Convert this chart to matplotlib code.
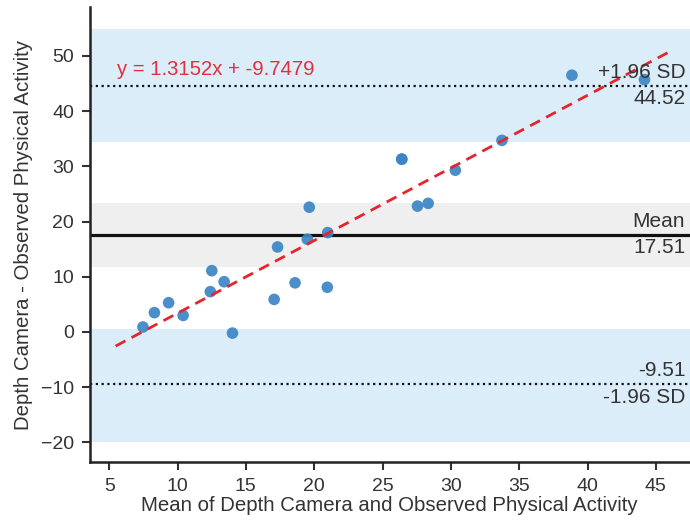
import matplotlib
matplotlib.use("Agg")
import matplotlib.pyplot as plt
import numpy as np

plt.rcParams['font.family'] = ['Liberation Sans', 'DejaVu Sans']

# Data
mean_vals = [7.47, 8.31, 9.35, 10.41, 12.4, 12.51, 13.41, 14.02, 17.07, 17.32,
             18.6, 19.5, 19.64, 20.99, 20.96, 26.41, 26.41, 27.56, 28.34, 30.33,
             33.74, 38.86, 44.17]
diff_vals = [0.9, 3.5, 5.3, 3.0, 7.3, 11.1, 9.1, -0.2, 5.9, 15.4,
             8.9, 16.8, 22.6, 18.0, 8.1, 31.3, 31.3, 22.8, 23.3, 29.3,
             34.7, 46.5, 45.7]

mean_diff = 17.51
upper_loa = 44.52
lower_loa = -9.51
mean_ci = [11.7, 23.3]
upper_ci = [34.4, 54.8]
lower_ci = [-19.9, 0.6]
slope = 1.3152
intercept = -9.7479

xticks = [5, 10, 15, 20, 25, 30, 35, 40, 45]
yticks = [-20, -10, 0, 10, 20, 30, 40, 50]

fig = plt.figure(figsize=(6.9, 5.24), dpi=100)
ax = fig.add_axes([89.5/690, 1 - 462.3/524, 1 - 89.5/690, (462.3 - 7.3)/524])

ax.set_xlim(3.56, 47.5)
ax.set_ylim(-23.6, 58.8)

band_blue = '#dcedfa'
band_gray = '#efefef'
ax.axhspan(upper_ci[0], upper_ci[1], color=band_blue, lw=0, zorder=0)
ax.axhspan(lower_ci[0], lower_ci[1], color=band_blue, lw=0, zorder=0)
ax.axhspan(mean_ci[0], mean_ci[1], color=band_gray, lw=0, zorder=0)

ax.axhline(mean_diff, color='#111111', lw=2.3, zorder=2)
ax.axhline(upper_loa, color='#111111', lw=1.6, ls=(0, (1, 1.6)), zorder=2)
ax.axhline(lower_loa, color='#111111', lw=1.6, ls=(0, (1, 1.6)), zorder=2)

ax.scatter(mean_vals, diff_vals, s=70, color='#3a86c6', alpha=0.92,
           edgecolors='none', zorder=3)

xs = np.array([min(mean_vals) - 2, max(mean_vals) + 2])
ax.plot(xs, slope * xs + intercept, color='#e5252d', ls=(0, (4, 2.5)), lw=2, zorder=4)

ax.text(5.55, 47.6, f"y = {slope}x + {intercept}", color='#e0303a',
        fontsize=14.6, va='center', ha='left', zorder=5)

tx = 0.992
kw = dict(transform=ax.get_yaxis_transform(), ha='right', va='center',
          fontsize=15, color='#333333', zorder=5)
ax.text(tx, upper_loa + 2.5, "+1.96 SD", **kw)
ax.text(tx, upper_loa - 2.3, f"{upper_loa:.2f}", **kw)
ax.text(tx, mean_diff + 2.5, "Mean", **kw)
ax.text(tx, mean_diff - 2.3, f"{mean_diff:.2f}", **kw)
ax.text(tx, lower_loa + 2.5, f"{lower_loa:.2f}", **kw)
ax.text(tx, lower_loa - 2.3, "-1.96 SD", **kw)

ax.set_xticks(xticks)
ax.set_yticks(yticks)
ax.tick_params(axis='both', labelsize=14, colors='#333333', length=6, width=1.5,
               direction='out', pad=5)
for s in ['top', 'right']:
    ax.spines[s].set_visible(False)
for s in ['left', 'bottom']:
    ax.spines[s].set_linewidth(1.8)
    ax.spines[s].set_color('#222222')

ax.set_xlabel("Mean of Depth Camera and Observed Physical Activity",
              fontsize=14.7, color='#333333', labelpad=1)
ax.set_ylabel("Depth Camera - Observed Physical Activity",
              fontsize=14.7, color='#333333')
ax.yaxis.set_label_coords(-0.094, 0.5)

fig.savefig("out.png", dpi=100)
